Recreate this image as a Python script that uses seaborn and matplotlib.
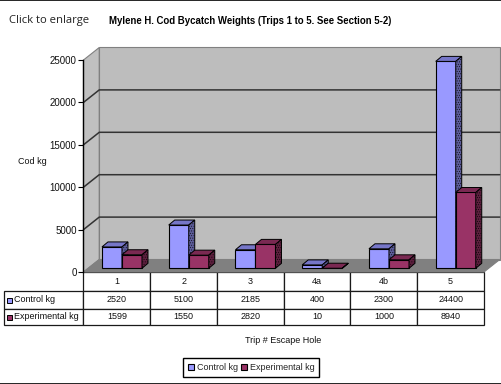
import matplotlib
matplotlib.use('Agg')
import matplotlib.pyplot as plt
from matplotlib.lines import Line2D
from matplotlib.patches import Rectangle
import pandas as pd
import seaborn as sns

trips = ['1', '2', '3', '4a', '4b', '5']
control_kg = [2520, 5100, 2185, 400, 2300, 24400]
experimental_kg = [1599, 1550, 2820, 10, 1000, 8940]
y_ticks = [0, 5000, 10000, 15000, 20000, 25000]
series_names = ['Control kg', 'Experimental kg']
bar_colors = ['#9999ff', '#993366']
top_colors = ['#7676c8', '#7a2952']
side_colors = ['#5c5c99', '#5c1f3d']

sns.set_theme(style='white')
plt.rcParams['font.family'] = ['Liberation Sans', 'DejaVu Sans']
plt.rcParams['hatch.linewidth'] = 0.3

df = pd.DataFrame({'trip': trips * 2,
                   'kg': control_kg + experimental_kg,
                   'series': [series_names[0]] * 6 + [series_names[1]] * 6})

fig = plt.figure(figsize=(5.02, 3.84), dpi=100)
ax = fig.add_axes([83.5 / 502, 1 - 272 / 384, 400.5 / 502, 212 / 384])
ax.patch.set_alpha(0)

sns.barplot(data=df, x='trip', y='kg', hue='series', palette=bar_colors,
            width=0.6, gap=0, saturation=1, edgecolor='black', linewidth=0.8,
            ax=ax, legend=True)
ax.set_xlim(-0.5, 5.5)
ax.set_ylim(0, 25000)

# pixel sizes turned into data units
px_x = 6 / 400.5
px_y = 25000 / 212
wall_dx = 15.75 * px_x
wall_dy = 12.5 * px_y
bar_dx = 5.1 * px_x
bar_dy = 3.7 * px_y
depth_x = 6 * px_x
depth_y = 5 * px_y

# walls and floor
ax.fill([-0.5, -0.5, -0.5 + wall_dx, -0.5 + wall_dx],
        [0, 25000, 25000 + wall_dy, wall_dy],
        fc='#c0c0c0', ec='#808080', lw=0.8, clip_on=False, zorder=0)
ax.fill([-0.5 + wall_dx, 5.5 + wall_dx, 5.5 + wall_dx, -0.5 + wall_dx],
        [wall_dy, wall_dy, 25000 + wall_dy, 25000 + wall_dy],
        fc='#bdbdbd', ec='#808080', lw=0.8, clip_on=False, zorder=0)
ax.fill([-0.5, 5.5, 5.5 + wall_dx, -0.5 + wall_dx],
        [0, 0, wall_dy, wall_dy],
        fc='#808080', ec='#808080', lw=0.8, clip_on=False, zorder=0.5)
for v in y_ticks[1:-1]:
    ax.plot([-0.5, -0.5 + wall_dx, 5.5 + wall_dx],
            [v, v + wall_dy, v + wall_dy],
            color='#333333', lw=1.1, clip_on=False, zorder=1)

# bars get a front face from seaborn, then top and side faces
for n, bars in enumerate(ax.containers):
    for bar in bars:
        bar.set_x(bar.get_x() + bar_dx)
        bar.set_y(bar_dy)
        bar.set_clip_on(False)
        bar.set_zorder(3 + n)
        x0 = bar.get_x()
        x1 = x0 + bar.get_width()
        y0 = bar_dy
        y1 = y0 + bar.get_height()
        ax.fill([x0, x1, x1 + depth_x, x0 + depth_x],
                [y1, y1, y1 + depth_y, y1 + depth_y],
                fc=top_colors[n], ec='black', lw=0.7,
                clip_on=False, zorder=3 + n)
        ax.fill([x1, x1 + depth_x, x1 + depth_x, x1],
                [y0, y0 + depth_y, y1 + depth_y, y1],
                fc=side_colors[n], ec='black', lw=0.7, hatch='.......',
                clip_on=False, zorder=3 + n)

sns.despine(ax=ax, top=True, right=True, bottom=True)
ax.spines['left'].set_color('black')
ax.spines['left'].set_linewidth(1.0)
ax.set_yticks(y_ticks)
ax.tick_params(axis='y', left=True, length=3.5, width=0.8, color='black',
               labelsize=7, pad=1.5, labelcolor='#111111')
ax.set_xticks([])

ax.set_ylabel('Cod kg', rotation=0, fontsize=6.5, color='#111111')
ax.yaxis.set_label_coords(-51 / 400.5, 106 / 212)
ax.set_xlabel('Trip # Escape Hole', fontsize=6.5, color='#111111')
ax.xaxis.set_label_coords(0.5 - 1 / 400.5, -64 / 212)

# data table under the chart, first column holds the series names
table_rows = [[series_names[0]] + [str(v) for v in control_kg],
              [series_names[1]] + [str(v) for v in experimental_kg]]
label_w = 79.5 / 400.5
tbl = ax.table(cellText=table_rows, colLabels=[''] + trips,
               colWidths=[label_w] + [1 / 6] * 6, cellLoc='center',
               bbox=[-label_w, -52.5 / 212, 1 + label_w, 52.5 / 212])
tbl.auto_set_font_size(False)
tbl.set_fontsize(6.5)
row_heights = [18.5 / 212, 18 / 212, 16 / 212]
for (r, c), cell in tbl.get_celld().items():
    cell.set_height(row_heights[r])
    cell.set_linewidth(0.9)
    cell.get_text().set_color('#111111')
    if c == 0:
        cell.get_text().set_horizontalalignment('left')
        cell.PAD = 0.125
tbl[(0, 0)].set_visible(False)
for r, color in enumerate(bar_colors):
    ys = [1 - 300.5 / 384, 1 - 317.5 / 384]
    fig.add_artist(Rectangle((6.7 / 502, ys[r] - 2.5 / 384), 5 / 502, 5 / 384,
                             fc=color, ec='black', lw=0.7,
                             transform=fig.transFigure, zorder=5))

leg = ax.get_legend()
handles = leg.legend_handles
leg.remove()
fig.legend(handles, series_names, ncol=2, loc='center',
           bbox_to_anchor=(251 / 502, 1 - 367.5 / 384), fontsize=6.5,
           frameon=True, fancybox=False, edgecolor='black', framealpha=1,
           handlelength=0.7, handleheight=0.7, handletextpad=0.3,
           columnspacing=0.3, borderpad=0.5, borderaxespad=0)

fig.text(9 / 502, 1 - 20 / 384, 'Click to enlarge', fontsize=8.1,
         family=['Open Sans', 'DejaVu Sans'], color='#222222', va='center')
fig.text(109 / 502, 1 - 20.5 / 384,
         'Mylene H. Cod Bycatch Weights (Trips 1 to 5. See Section 5-2)',
         fontsize=6.95, fontweight='bold', color='black', va='center')

fig.add_artist(Line2D([0, 1], [0.999, 0.999], color='black', lw=1.2))
fig.add_artist(Line2D([0, 1], [0.001, 0.001], color='black', lw=1.2))

fig.savefig('out.png', dpi=100)
